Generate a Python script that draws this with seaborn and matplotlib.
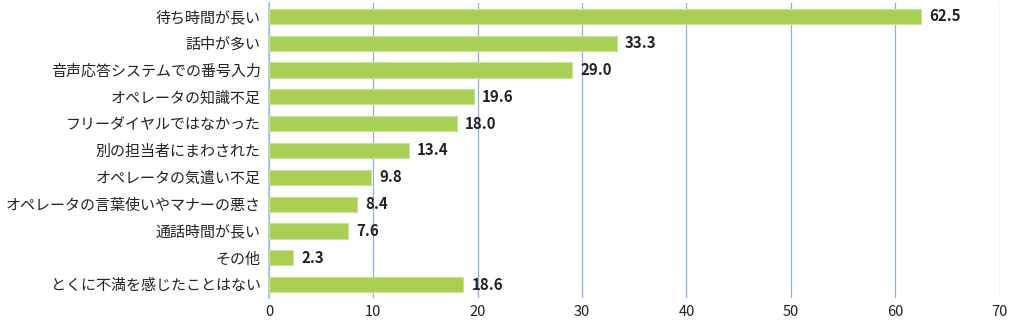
import matplotlib
matplotlib.use("Agg")
import matplotlib.pyplot as plt
import seaborn as sns
import pandas as pd

categories = [
    "待ち時間が長い",
    "話中が多い",
    "音声応答システムでの番号入力",
    "オペレータの知識不足",
    "フリーダイヤルではなかった",
    "別の担当者にまわされた",
    "オペレータの気遣い不足",
    "オペレータの言葉使いやマナーの悪さ",
    "通話時間が長い",
    "その他",
    "とくに不満を感じたことはない",
]
values = [62.5, 33.3, 29.0, 19.6, 18.0, 13.4, 9.8, 8.4, 7.6, 2.3, 18.6]
x_ticks = [0, 10, 20, 30, 40, 50, 60, 70]

df = pd.DataFrame({"item": categories, "pct": values})

sns.set_theme(style="white")
plt.rcParams["font.family"] = ["Noto Sans CJK JP", "DejaVu Sans"]

fig = plt.figure(figsize=(10.2, 3.24), dpi=100)
ax = fig.add_axes([0.2637, 0.080, 0.7163, 0.911])

sns.barplot(data=df, x="pct", y="item", orient="h", color="#a9cf55",
            saturation=1, width=0.56, edgecolor="#c8e29a", linewidth=0.8,
            ax=ax, zorder=3)

ax.set_xlim(0, 70)
ax.set_ylim(len(categories) - 0.5, -0.5)
ax.set_xticks(x_ticks)
ax.set_xticklabels([str(t) for t in x_ticks], fontsize=10.5, color="#222222")
ax.tick_params(axis="y", labelsize=10.8, colors="#222222", length=0, pad=6)
ax.tick_params(axis="x", length=0, pad=5)
ax.set_xlabel("")
ax.set_ylabel("")

ax.grid(axis="x", color="#8eaee0", linewidth=0.9, zorder=0)
ax.grid(axis="y", visible=False)
for side in ["top", "right", "bottom"]:
    ax.spines[side].set_visible(False)
ax.spines["left"].set_color("#a9bfe3")
ax.spines["left"].set_linewidth(1.2)

for i, v in enumerate(values):
    ax.text(v + 0.8, i, f"{v:.1f}", va="center", ha="left",
            fontsize=10.8, fontweight="bold", color="#222222", zorder=4)

fig.savefig("out.png", dpi=100)
